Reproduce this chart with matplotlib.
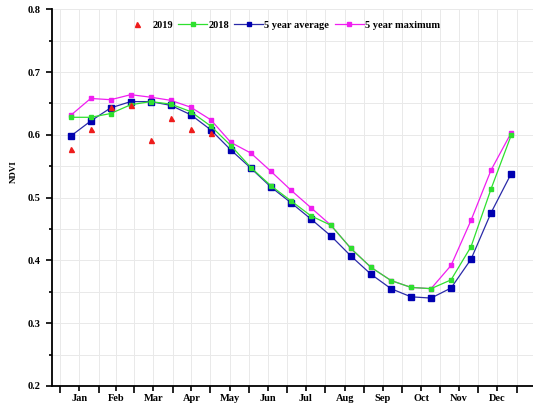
import numpy as np
import matplotlib.pyplot as plt
from matplotlib.lines import Line2D

# 16-day composites, plotted at the middle of each period
composite_start = np.arange(1, 366, 16)
doy = composite_start + 7.5

ndvi_2019 = [0.578, 0.610, 0.644, 0.647, 0.592, 0.627, 0.610, 0.603]
ndvi_2018 = [0.628, 0.628, 0.634, 0.648, 0.653, 0.649, 0.637, 0.614, 0.583, 0.548,
             0.519, 0.495, 0.471, 0.456, 0.419, 0.389, 0.368, 0.357, 0.355, 0.369,
             0.422, 0.514, 0.599]
ndvi_avg5 = [0.598, 0.622, 0.643, 0.653, 0.653, 0.647, 0.632, 0.608, 0.576, 0.547,
             0.517, 0.492, 0.466, 0.439, 0.407, 0.378, 0.355, 0.342, 0.340, 0.356,
             0.402, 0.476, 0.538]
ndvi_max5 = [0.631, 0.658, 0.656, 0.664, 0.660, 0.655, 0.644, 0.624, 0.588, 0.571,
             0.542, 0.512, 0.484, 0.456, 0.419, 0.389, 0.368, 0.357, 0.355, 0.392,
             0.464, 0.544, 0.603]

months = ["Jan", "Feb", "Mar", "Apr", "May", "Jun",
          "Jul", "Aug", "Sep", "Oct", "Nov", "Dec"]
month_days = [31, 28, 31, 30, 31, 30, 31, 31, 30, 31, 30, 31]

FONT = "Liberation Serif"
C_RED = "#ee1c1c"
C_GREEN = "#2ee02e"
C_BLUE = "#2a2aa8"
C_BLUE_MK = "#0000b0"
C_MAG = "#f01ef0"

bounds = np.concatenate([[0], np.cumsum(month_days)])
mids = (bounds[:-1] + bounds[1:]) / 2

fig = plt.figure(figsize=(5.33, 4.05), dpi=100)
ax = fig.add_axes([0.0976, 0.047, 0.9024, 0.930])

n18 = len(ndvi_2018)
ax.plot(doy[:n18], ndvi_max5, color=C_MAG, lw=0.9, marker="s", ms=3.5,
        mfc=C_MAG, mec=C_MAG, zorder=3)
ax.plot(doy[:n18], ndvi_avg5, color=C_BLUE, lw=0.9, marker="s", ms=4.0,
        mfc=C_BLUE_MK, mec=C_BLUE_MK, zorder=4)
ax.plot(doy[:n18], ndvi_2018, color=C_GREEN, lw=0.9, marker="s", ms=3.2,
        mfc=C_GREEN, mec=C_GREEN, zorder=5)
ax.plot(doy[:len(ndvi_2019)], ndvi_2019, ls="none", marker="^", ms=3.6,
        color=C_RED, zorder=6)

ax.set_xlim(-6.4, 378)
ax.set_ylim(0.2, 0.8)

ax.set_xticks(bounds)
ax.set_xticks(mids, minor=True)
ax.set_xticklabels([])
ax.set_xticklabels(months, minor=True)
ax.set_yticks(np.arange(0.2, 0.81, 0.1))
ax.set_yticks(np.arange(0.25, 0.8, 0.1), minor=True)
ax.set_yticklabels([f"{v:.1f}" for v in np.arange(0.2, 0.81, 0.1)])

ax.tick_params(axis="x", which="major", length=5, width=1.2, direction="out")
ax.tick_params(axis="x", which="minor", length=3.5, width=1.2, direction="out", pad=2)
ax.tick_params(axis="y", which="major", length=4, width=1.2, direction="out", pad=4)
ax.tick_params(axis="y", which="minor", length=2.5, width=1.2, direction="out")
for lab in ax.get_xticklabels(minor=True) + ax.get_yticklabels():
    lab.set_fontfamily(FONT)
    lab.set_fontweight("bold")
    lab.set_fontsize(7.5)

ax.grid(True, which="both", color="#e9e9e9", lw=0.7)
ax.set_axisbelow(True)

for s in ["top", "right"]:
    ax.spines[s].set_visible(False)
for s in ["left", "bottom"]:
    ax.spines[s].set_linewidth(1.3)

ax.set_ylabel("NDVI", fontfamily=FONT, fontweight="bold", fontsize=6.5)
ax.yaxis.set_label_coords(-0.072, 0.568)

handles = [
    Line2D([], [], ls="none", marker="^", ms=3.6, color=C_RED),
    Line2D([], [], color=C_GREEN, lw=0.9, marker="s", ms=3.2),
    Line2D([], [], color=C_BLUE, lw=0.9, marker="s", ms=3.5, mfc=C_BLUE_MK, mec=C_BLUE_MK),
    Line2D([], [], color=C_MAG, lw=0.9, marker="s", ms=3.2),
]
labels = ["2019", "2018", "5 year average", "5 year maximum"]
fig.legend(handles, labels, loc="center", bbox_to_anchor=(0.527, 0.938), ncol=4,
           frameon=False, handlelength=2.8, handletextpad=0.1, columnspacing=0.5,
           prop={"family": FONT, "weight": "bold", "size": 7.5})

fig.savefig("out.png", dpi=100)
